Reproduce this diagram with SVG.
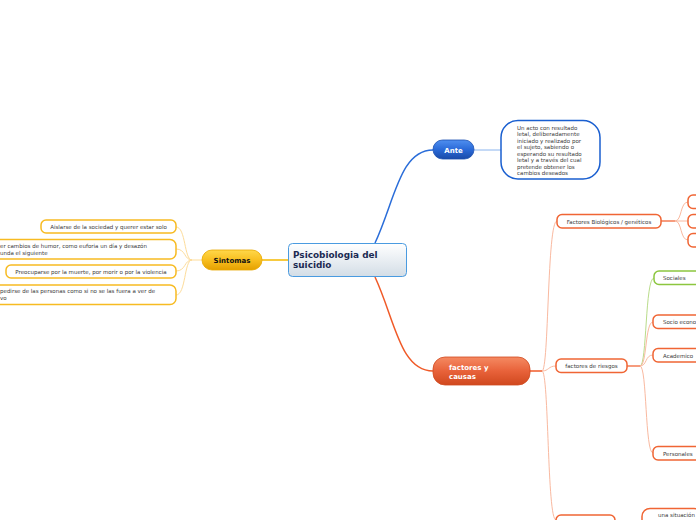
<svg xmlns="http://www.w3.org/2000/svg" width="696" height="520" viewBox="0 0 696 520">
<defs>
<linearGradient id="gCenter" x1="0" y1="0" x2="0" y2="1"><stop offset="0" stop-color="#ffffff"/><stop offset="1" stop-color="#d3dde6"/></linearGradient>
<linearGradient id="gBlue" x1="0" y1="0" x2="0" y2="1"><stop offset="0" stop-color="#4f8ff0"/><stop offset="0.5" stop-color="#2a6ad8"/><stop offset="1" stop-color="#1a4aa8"/></linearGradient>
<linearGradient id="gYellow" x1="0" y1="0" x2="0" y2="1"><stop offset="0" stop-color="#ffd84a"/><stop offset="0.5" stop-color="#f8bf20"/><stop offset="1" stop-color="#e4a000"/></linearGradient>
<linearGradient id="gOrange" x1="0" y1="0" x2="0" y2="1"><stop offset="0" stop-color="#f58a62"/><stop offset="0.5" stop-color="#e8623a"/><stop offset="1" stop-color="#d0481e"/></linearGradient>
<style>
text{font-family:"DejaVu Sans","Liberation Sans",sans-serif;}
.sm{font-size:5.5px;fill:#3a3a3a;}
.yb{fill:#fff;stroke:#f7bb22;stroke-width:1.5;}
.ob{fill:#fff;stroke:#f06534;stroke-width:1.5;}
.gb{fill:#fff;stroke:#8cc63f;stroke-width:1.5;}
.lo{stroke:#f9b9a0;stroke-width:1;fill:none;}
.ly{stroke:#fddc9a;stroke-width:1;fill:none;}
.lg{stroke:#b9dc8a;stroke-width:1;fill:none;}
</style>
</defs>
<g id="connectors">
<path d="M375,243 C395,200 400,150 433,150" stroke="#2a6dd9" stroke-width="1.5" fill="none"/>
<path d="M474,150 L501,150" stroke="#8ab4ee" stroke-width="1" fill="none"/>
<path d="M288,260 L262,260" stroke="#f5b800" stroke-width="1.5" fill="none"/>
<path d="M375,277 C395,320 400,371 433,371" stroke="#f05a28" stroke-width="1.5" fill="none"/>
<path d="M202,260 L192,260 C184,260 186,227 176,227" class="ly"/>
<path d="M192,260 C184,260 186,249 176,249" class="ly"/>
<path d="M192,260 C184,260 186,271 176,271" class="ly"/>
<path d="M192,260 C184,260 186,295 176,295" class="ly"/>
<path d="M530,371 L542,371" stroke="#f05a28" stroke-width="1.5" fill="none"/>
<path d="M542,371 C549,371 547,221 557,221" class="lo"/>
<path d="M542,371 C549,371 548,366 556,366" class="lo"/>
<path d="M542,371 C549,371 547,520 556,520" class="lo"/>
<path d="M661,221 L675,221" stroke="#f05a28" stroke-width="1.2" fill="none"/>
<path d="M675,221 C682,221 680,202 688,202" class="lo"/>
<path d="M675,221 L688,221" class="lo"/>
<path d="M675,221 C682,221 680,240 688,240" class="lo"/>
<path d="M627,366 L640,366" stroke="#f05a28" stroke-width="1.2" fill="none"/>
<path d="M640,366 C647,366 645,278 654,278" class="lg"/>
<path d="M640,366 C647,366 645,322 653,322" class="lo"/>
<path d="M640,366 C647,366 645,355 653,355" class="lo"/>
<path d="M640,366 C647,366 645,453 653,453" class="lo"/>
</g>
<g id="center">
<rect x="288.5" y="243.5" width="118" height="33" rx="4" fill="url(#gCenter)" stroke="#4a9be0" stroke-width="1"/>
<text x="293" y="258" font-size="8.9" font-weight="bold" fill="#1b2a52">Psicobiologia del</text>
<text x="293" y="268" font-size="8.9" font-weight="bold" fill="#1b2a52">suicidio</text>
</g>
<g id="ante">
<rect x="433" y="140" width="41" height="19" rx="9.5" fill="url(#gBlue)" stroke="#1a4fb0" stroke-width="0.8"/>
<text x="453.5" y="152.5" font-size="7" font-weight="bold" fill="#fff" text-anchor="middle">Ante</text>
</g>
<g id="definicion">
<rect x="501" y="120.5" width="99" height="58.5" rx="17" fill="#fff" stroke="#1a5fd0" stroke-width="1.5"/>
<text class="sm" x="517" y="129.5">Un acto con resultado</text>
<text class="sm" x="517" y="136">letal, deliberadamente</text>
<text class="sm" x="517" y="142.5">iniciado y realizado por</text>
<text class="sm" x="517" y="149">el sujeto, sabiendo o</text>
<text class="sm" x="517" y="155.5">esperando su resultado</text>
<text class="sm" x="517" y="162">letal y a través del cual</text>
<text class="sm" x="517" y="168.5">pretende obtener los</text>
<text class="sm" x="517" y="175">cambios deseados</text>
</g>
<g id="sintomas">
<rect x="202" y="250" width="60" height="20" rx="10" fill="url(#gYellow)" stroke="#e8a800" stroke-width="0.8"/>
<text x="232" y="262.5" font-size="7" font-weight="bold" fill="#111" text-anchor="middle">Sintomas</text>
</g>
<g id="s1">
<rect x="41" y="220" width="135" height="13" rx="5" class="yb"/>
<text class="sm" x="108.5" y="228.5" text-anchor="middle">Aislarse de la sociedad y querer estar solo</text>
</g>
<g id="s2">
<rect x="-10" y="239.5" width="186" height="19.5" rx="6" class="yb"/>
<text class="sm" x="0" y="247.5">er cambios de humor, como euforia un día y desazón</text>
<text class="sm" x="0" y="254.5">unda el siguiente</text>
</g>
<g id="s3">
<rect x="6" y="265" width="170" height="13" rx="5" class="yb"/>
<text class="sm" x="91" y="273.5" text-anchor="middle">Preocuparse por la muerte, por morir o por la violencia</text>
</g>
<g id="s4">
<rect x="-10" y="285" width="186" height="19.5" rx="6" class="yb"/>
<text class="sm" x="0" y="293">pedirse de las personas como si no se las fuera a ver de</text>
<text class="sm" x="0" y="300">vo</text>
</g>
<g id="factores">
<rect x="433" y="357" width="97" height="28" rx="12" fill="url(#gOrange)" stroke="#d04a20" stroke-width="0.8"/>
<text x="449" y="369.5" font-size="7" font-weight="bold" fill="#fff">factores y</text>
<text x="449" y="378.5" font-size="7" font-weight="bold" fill="#fff">causas</text>
</g>
<g id="biologicos">
<rect x="557" y="214.5" width="104" height="13.5" rx="5" class="ob"/>
<text class="sm" x="609" y="223.5" text-anchor="middle">Factores Biológicos / genéticos</text>
</g>
<g id="bio1"><rect x="688" y="195" width="20" height="13.5" rx="5" class="ob"/></g>
<g id="bio2"><rect x="688" y="214.5" width="20" height="13.5" rx="5" class="ob"/></g>
<g id="bio3"><rect x="688" y="233.5" width="20" height="13.5" rx="5" class="ob"/></g>
<g id="riesgos">
<rect x="556" y="359" width="71" height="13.5" rx="5" class="ob"/>
<text class="sm" x="591.5" y="368" text-anchor="middle">factores de riesgos</text>
</g>
<g id="sociales">
<rect x="654" y="271" width="50" height="13.5" rx="5" class="gb"/>
<text class="sm" x="663" y="280">Sociales</text>
</g>
<g id="socioeco">
<rect x="653" y="315" width="55" height="13.5" rx="5" class="ob"/>
<text class="sm" x="663" y="324">Socio econo</text>
</g>
<g id="academico">
<rect x="653" y="348.5" width="55" height="13.5" rx="5" class="ob"/>
<text class="sm" x="663" y="357.5">Academico</text>
</g>
<g id="personales">
<rect x="653" y="446.5" width="55" height="13.5" rx="5" class="ob"/>
<text class="sm" x="663" y="455.5">Personales</text>
</g>
<g id="tercero">
<rect x="556" y="515" width="59" height="14" rx="5" class="ob"/>
</g>
<g id="situacion">
<rect x="642" y="508.5" width="60" height="20" rx="8" class="ob"/>
<text class="sm" x="658" y="516.5">una situación</text>
</g>
</svg>
